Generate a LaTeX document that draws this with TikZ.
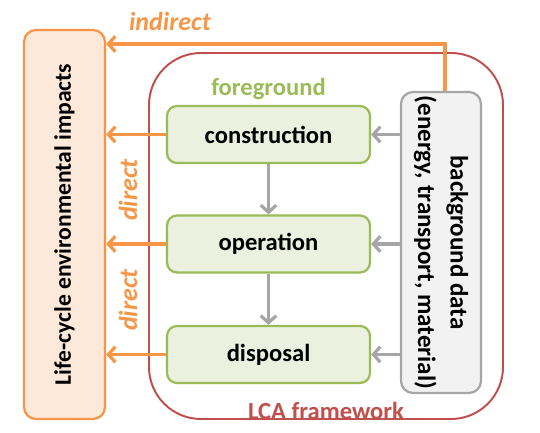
\documentclass[tikz,border=0pt]{standalone}
\usepackage{fontspec}
\setmainfont{Carlito}
\usetikzlibrary{positioning,calc,arrows.meta}
\definecolor{lcaorange}{RGB}{247,150,70}
\definecolor{lcaorangefill}{RGB}{253,233,217}
\definecolor{lcagreen}{RGB}{155,187,89}
\definecolor{lcagreenfill}{RGB}{235,241,222}
\definecolor{lcared}{RGB}{192,80,77}
\definecolor{lcagray}{RGB}{166,166,166}
\definecolor{lcagrayfill}{RGB}{242,242,242}

\tikzset{
  stage/.style={draw=lcagreen, fill=lcagreenfill, line width=1.6pt, rounded corners=0.25cm,
    minimum width=5.075cm, minimum height=1.425cm, font=\fontsize{17.5}{20}\selectfont\bfseries},
  impact/.style={->, >={Straight Barb[length=5pt,width=11pt]}, lcaorange, line width=2.3pt},
  feed/.style={->, >={Straight Barb[length=5pt,width=11pt]}, lcagray, line width=2.3pt},
  lbl/.style={font=\fontsize{18.5}{21}\selectfont\bfseries\itshape, lcaorange}
}

\begin{document}
\begin{tikzpicture}
    \useasboundingbox (0,0) rectangle (13.5,10.825);
    % outer boxes
    \node[draw=lcaorange, fill=lcaorangefill, line width=1.6pt, rounded corners=0.3cm,
      minimum width=2.025cm, minimum height=9.725cm] (imp) at (1.6125,5.2125) {};
    \node[rotate=90, font=\fontsize{16.8}{20}\selectfont\bfseries] at (imp) {Life-cycle environmental impacts};
    \node[draw=lcared, line width=1.4pt, rounded corners=1.3cm,
      minimum width=8.85cm, minimum height=9.15cm] (frame) at (8.15,4.925) {};
    \node[anchor=south, lcared, font=\fontsize{17.5}{20}\selectfont\bfseries] (fw) at ($(frame.south)+(0,-0.12)$) {LCA framework};
    % foreground stages
    \node[stage] (con) at (6.7125,7.4625) {construction};
    \node[stage] (op) at (6.7125,4.725) {operation};
    \node[stage] (dis) at (6.7125,1.9625) {disposal};
    \node[above=0cm of con, lcagreen, font=\fontsize{17.5}{20}\selectfont\bfseries] (fg) {foreground};
    % background data
    \node[draw=lcagray, fill=lcagrayfill, line width=1.6pt, rounded corners=0.3cm,
      minimum width=2cm, minimum height=7.525cm] (bg) at (11.025,4.7625) {};
    \node[rotate=-90, align=center, font=\fontsize{17.8}{23}\selectfont\bfseries] at (bg) {background data\\(energy, transport, material)};
    % connectors
    \draw[feed] (con) -- (op);
    \draw[feed] (op) -- (dis);
    \draw[feed] (bg.west |- con) -- (con);
    \draw[feed] (bg.west |- op) -- (op);
    \draw[feed] (bg.west |- dis) -- (dis);
    \draw[impact] (con) -- (imp.east |- con);
    \draw[impact] (op) -- (imp.east |- op);
    \draw[impact] (dis) -- (imp.east |- dis);
    \coordinate (bend) at (11.125,9.725);
    \draw[impact] (bg.north -| bend) -- (bend) -- (imp.east |- bend);
    \node[lbl] (ind) at (4.25,10.3) {indirect};
    \node[lbl, rotate=90] (d1) at (3.2,6.075) {direct};
    \node[lbl, rotate=90] (d2) at (3.2,3.325) {direct};
\end{tikzpicture}
\end{document}
